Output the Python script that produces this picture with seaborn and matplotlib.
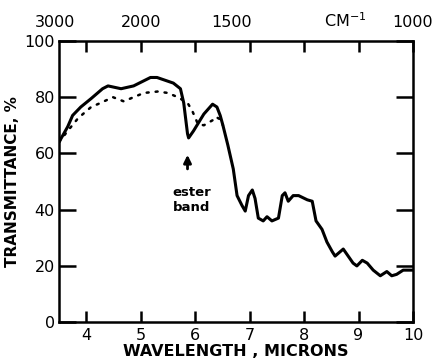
import matplotlib
matplotlib.use("Agg")
import matplotlib.pyplot as plt
import seaborn as sns
import pandas as pd

# ---- data ----
solid_um = [3.50, 3.66, 3.75, 3.90, 4.09, 4.30, 4.40, 4.64, 4.87, 5.18, 5.30, 5.60,
            5.73, 5.79, 5.86, 5.88, 5.97, 6.16, 6.32, 6.40, 6.46, 6.51, 6.60, 6.70,
            6.77, 6.86, 6.92, 6.98, 7.05, 7.10, 7.16, 7.25, 7.32, 7.41, 7.53, 7.60,
            7.65, 7.71, 7.80, 7.90, 8.06, 8.15, 8.22, 8.33, 8.42, 8.52, 8.57, 8.66,
            8.72, 8.81, 8.90, 8.97, 9.07, 9.16, 9.27, 9.40, 9.52, 9.61, 9.70, 9.82, 10.0]
solid_t = [64, 69.5, 73.5, 76.5, 79.5, 83, 84, 83, 84, 87, 87, 85,
           83, 78, 67, 65.5, 68, 74, 77.5, 76.5, 73.5, 70, 63, 54.5,
           45, 41.5, 39.5, 45, 47, 44, 37, 36, 37.5, 36, 37, 45,
           46, 43, 45, 45, 43.5, 43, 36, 33, 28.5, 25, 23.5, 25,
           26, 23.5, 21, 20, 22, 21, 18.5, 16.5, 18, 16.5, 17, 18.5, 18.5]

dotted_um = [3.50, 3.66, 3.85, 4.09, 4.27, 4.49, 4.69, 4.87, 5.06, 5.31, 5.50,
             5.68, 5.86, 5.95, 6.05, 6.16, 6.34, 6.38, 6.47, 6.51]
dotted_t = [64, 68, 72.5, 76.5, 78, 80, 78.5, 80, 81.5, 82, 81.5,
            80, 78, 75, 70.5, 70, 72, 73, 72, 70]

x_ticks = [4, 5, 6, 7, 8, 9, 10]
y_ticks = [0, 20, 40, 60, 80, 100]
wavenumbers = [3000, 2000, 1500, 1000]

solid_df = pd.DataFrame({"um": solid_um, "T": solid_t})
dotted_df = pd.DataFrame({"um": dotted_um, "T": dotted_t})

sns.set_style("white")
plt.rcParams["font.family"] = ["DejaVu Sans"]
plt.rcParams["text.color"] = "black"
plt.rcParams["axes.labelcolor"] = "black"
plt.rcParams["xtick.color"] = "black"
plt.rcParams["ytick.color"] = "black"

fig = plt.figure(figsize=(4.37, 3.62), dpi=100)
ax = fig.add_axes([0.135, 0.110, 0.810, 0.777])

sns.lineplot(data=solid_df, x="um", y="T", ax=ax, color="black", lw=2.2,
             sort=False, estimator=None)
sns.lineplot(data=dotted_df, x="um", y="T", ax=ax, color="black", lw=1.8,
             sort=False, estimator=None, linestyle=(0, (0.8, 2.8)),
             dash_capstyle="round")

ax.set_xlim(3.5, 10)
ax.set_ylim(0, 100)
ax.set_xticks(x_ticks)
ax.set_xticklabels([str(v) for v in x_ticks])
ax.set_yticks(y_ticks)
ax.set_yticklabels([str(v) for v in y_ticks])

for s in ax.spines.values():
    s.set_linewidth(1.8)
    s.set_color("black")

ax.tick_params(axis="x", direction="in", length=8, width=1.8, top=True,
               bottom=True, labelsize=11.5, pad=4, colors="black")
ax.tick_params(axis="y", direction="in", length=12, width=1.8, left=True,
               right=True, labelsize=11.5, pad=3, colors="black")

ax.set_xlabel("WAVELENGTH , MICRONS", fontsize=11.5, fontweight="bold",
              labelpad=1, color="black")
ax.set_ylabel("TRANSMITTANCE, %", fontsize=11, fontweight="bold",
              labelpad=3, color="black")

# top wavenumber labels
for wn in wavenumbers:
    xpos = max(1e4 / wn, 3.42)
    ax.text(xpos, 104.0, str(wn), ha="center", va="bottom", fontsize=11.5,
            clip_on=False, color="black")
ax.text(8.75, 104.0, "CM$^{-1}$", ha="center", va="bottom", fontsize=11.5,
        clip_on=False, color="black")

# ester band annotation
ax.annotate("", xy=(5.86, 60.5), xytext=(5.86, 53.5),
            arrowprops=dict(arrowstyle="-|>,head_length=0.45,head_width=0.22",
                            lw=2, color="black"))
ax.text(5.94, 43.5, "ester\nband", ha="center", va="center", fontsize=9.5,
        fontweight="bold", linespacing=1.2, color="black")

fig.savefig("out.png", dpi=100)
